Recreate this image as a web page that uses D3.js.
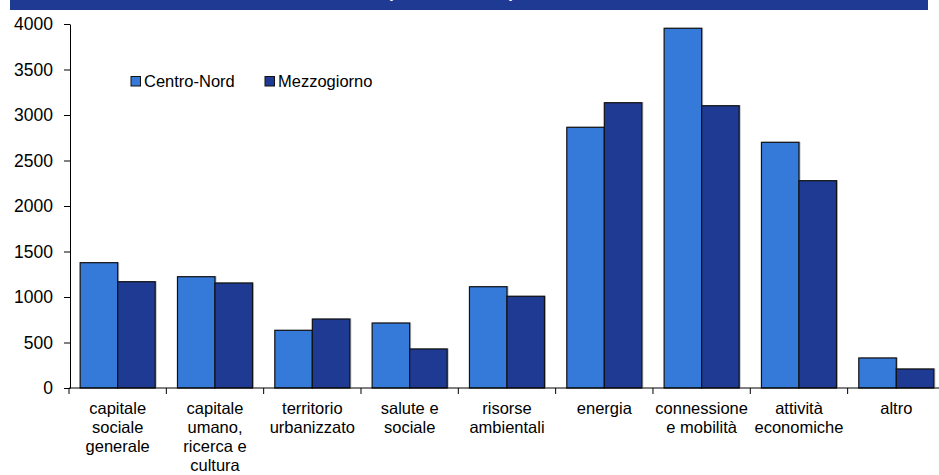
<!DOCTYPE html>
<html>
<head>
<meta charset="utf-8">
<script src="https://cdn.jsdelivr.net/npm/d3@7"></script>
<style>
  html, body { margin: 0; padding: 0; background: #fff; }
  svg { display: block; }
  text { font-family: "Liberation Sans", Arial, sans-serif; fill: #000; }
</style>
</head>
<body>
<svg id="chart" width="939" height="475"></svg>
<script>
const categories = [
  "capitale\nsociale\ngenerale",
  "capitale\numano,\nricerca e\ncultura",
  "territorio\nurbanizzato",
  "salute e\nsociale",
  "risorse\nambientali",
  "energia",
  "connessione\ne mobilità",
  "attività\neconomiche",
  "altro"
];
const seriesNames = ["Centro-Nord", "Mezzogiorno"];
const centroNord = [1377, 1223, 634, 714, 1113, 2865, 3953, 2700, 330];
const mezzogiorno = [1168, 1154, 758, 429, 1008, 3135, 3102, 2278, 209];
const yTicks = [0, 500, 1000, 1500, 2000, 2500, 3000, 3500, 4000];
const colors = ["#367AD9", "#1F3A93"];
const titleText = "(milioni di euro)";

const svg = d3.select("#chart");
const W = 939, H = 475;
const x0 = 69, xEnd = x0 + 9 * 97.33;
const yTop = 24, yBottom = 388;

// banner
svg.append("rect").attr("x", 10).attr("y", 0).attr("width", 918).attr("height", 10).attr("fill", "#1F3A93");
svg.append("text").attr("x", 451).attr("y", -2).attr("text-anchor", "middle")
  .style("font-size", "17px").style("font-weight", "bold").style("fill", "#fff").text(titleText);

const x = d3.scaleBand().domain(d3.range(categories.length)).range([x0, xEnd])
  .paddingInner(0.229).paddingOuter(0.1145);
const xs = d3.scaleBand().domain([0, 1]).range([0, x.bandwidth()]);
const y = d3.scaleLinear().domain([0, 4000]).range([yBottom, yTop]);

const data = categories.map((c, i) => ({ i, vals: [centroNord[i], mezzogiorno[i]] }));

// bars
const g = svg.append("g");
const groups = g.selectAll("g.grp").data(data).join("g")
  .attr("transform", d => `translate(${x(d.i)},0)`);
groups.selectAll("rect.sh").data(d => d.vals).join("rect")
  .attr("x", (v, j) => xs(j) + 1.5).attr("y", v => y(v) - 0.5)
  .attr("width", xs.bandwidth()).attr("height", v => yBottom - y(v))
  .attr("fill", "#bbb");
groups.selectAll("rect.bar").data(d => d.vals).join("rect")
  .attr("x", (v, j) => xs(j)).attr("y", v => y(v))
  .attr("width", xs.bandwidth()).attr("height", v => yBottom - y(v))
  .attr("fill", (v, j) => colors[j]).attr("stroke", "#111").attr("stroke-width", 1.2);

// y axis
const yAxis = svg.append("g").attr("transform", `translate(${x0 + 1},0)`)
  .call(d3.axisLeft(y).tickValues(yTicks).tickFormat(d3.format("d")).tickSize(6).tickPadding(11).tickSizeOuter(0));
yAxis.selectAll("text").style("font-size", "17.5px");
yAxis.selectAll("path, line").attr("stroke", "#000");

// x axis
const xAxisG = svg.append("g").attr("transform", `translate(0,${yBottom})`);
xAxisG.append("line").attr("x1", x0).attr("x2", W).attr("y1", 0).attr("y2", 0).attr("stroke", "#000");
const boundaries = d3.range(categories.length + 1).map(i => x0 + i * x.step());
xAxisG.selectAll("line.tk").data(boundaries).join("line")
  .attr("x1", d => d).attr("x2", d => d).attr("y1", 0).attr("y2", 6).attr("stroke", "#000");
const labels = xAxisG.selectAll("text.lbl").data(data).join("text")
  .attr("text-anchor", "middle")
  .attr("transform", d => `translate(${x(d.i) + x.bandwidth() / 2},0)`)
  .style("font-size", "16.5px");
labels.each(function(d) {
  const lines = categories[d.i].split("\n");
  d3.select(this).selectAll("tspan").data(lines).join("tspan")
    .attr("x", 0).attr("y", (l, k) => 26 + k * 19).text(l => l);
});

// legend
const legend = svg.append("g");
const legX = [131, 265];
seriesNames.forEach((n, j) => {
  legend.append("rect").attr("x", legX[j]).attr("y", 76.5).attr("width", 9.5).attr("height", 9.5)
    .attr("fill", colors[j]).attr("stroke", "#111").attr("stroke-width", 1);
  legend.append("text").attr("x", legX[j] + 13).attr("y", 87).style("font-size", "16.5px").text(n);
});
</script>
</body>
</html>
